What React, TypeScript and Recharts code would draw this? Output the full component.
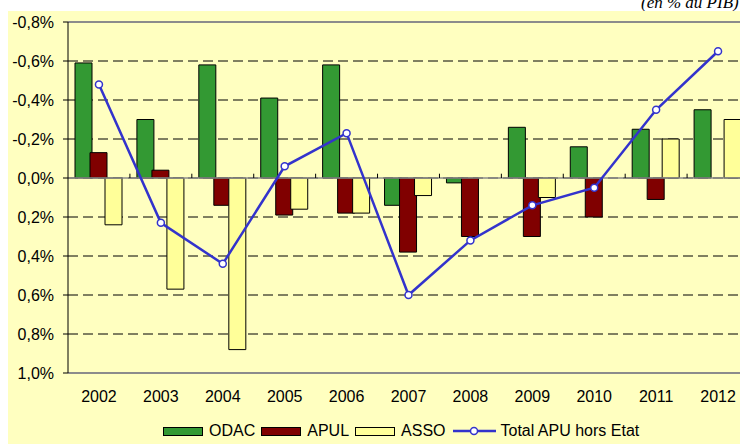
import React from 'react'
import { ComposedChart, Bar, Line, XAxis, YAxis, CartesianGrid, ReferenceLine, Legend } from 'recharts'

const years = ['2002', '2003', '2004', '2005', '2006', '2007', '2008', '2009', '2010', '2011', '2012']
const odac = [-0.59, -0.3, -0.58, -0.41, -0.58, 0.14, 0.025, -0.26, -0.16, -0.25, -0.35]
const apul = [-0.13, -0.04, 0.14, 0.19, 0.18, 0.38, 0.3, 0.3, 0.2, 0.11, null]
const asso = [0.24, 0.57, 0.88, 0.16, 0.18, 0.09, null, 0.1, null, -0.2, -0.3]
const total = [-0.48, 0.23, 0.44, -0.06, -0.23, 0.6, 0.32, 0.14, 0.05, -0.35, -0.65]
const yTicks = [-0.8, -0.6, -0.4, -0.2, 0, 0.2, 0.4, 0.6, 0.8, 1.0]

const data = years.map((year, i) => ({
  year,
  ODAC: odac[i],
  APUL: apul[i],
  ASSO: asso[i],
  total: total[i],
}))

const FONT = '"Liberation Sans", Arial, sans-serif'
const BG = '#FFFFC0'
const BLUE = '#3333CC'
const GREY = '#8C8C8C'

const fmt = (v: number) => v.toFixed(1).replace('.', ',') + '%'

const swatches = [
  { name: 'ODAC', color: '#339933' },
  { name: 'APUL', color: '#800000' },
  { name: 'ASSO', color: '#FFFF99' },
]

function ChartLegend() {
  return (
    <div style={{ display: 'flex', alignItems: 'center', height: 26, fontFamily: FONT, fontSize: 16, color: '#000', whiteSpace: 'nowrap' }}>
      {swatches.map((s) => (
        <div key={s.name} style={{ display: 'flex', alignItems: 'center', marginRight: 6 }}>
          <div style={{ width: 38, height: 7, background: s.color, border: '1px solid #000', marginRight: 6 }} />
          <span>{s.name}</span>
        </div>
      ))}
      <svg width={43} height={10} style={{ marginLeft: 1, marginRight: 5 }}>
        <line x1={0} y1={5} x2={43} y2={5} stroke={BLUE} strokeWidth={2.5} />
        <circle cx={21} cy={5} r={3.5} fill="#fff" stroke={BLUE} strokeWidth={1.5} />
      </svg>
      <span>Total APU hors Etat</span>
    </div>
  )
}

export default function App() {
  return (
    <div style={{ position: 'fixed', left: 0, top: 0, width: 740, height: 444, overflow: 'hidden', background: '#fff' }}>
      <div
        style={{
          position: 'absolute',
          left: 641,
          top: -6,
          fontFamily: '"Liberation Serif", "Times New Roman", serif',
          fontStyle: 'italic',
          fontSize: 17,
          lineHeight: '17px',
          whiteSpace: 'nowrap',
        }}
      >
        (en % du PIB)
      </div>
      <div style={{ position: 'absolute', left: 8, top: 11, width: 760, height: 440, background: BG }}>
        <ComposedChart
          width={745}
          height={433}
          data={data}
          margin={{ top: 11, right: 4, bottom: 0, left: 0 }}
          barSize={17}
          barGap={-2}
          style={{ fontFamily: FONT }}
        >
          <CartesianGrid vertical={false} stroke="#000" strokeDasharray="10 5" />
          <XAxis
            dataKey="year"
            axisLine={false}
            tickLine={false}
            height={45}
            tickMargin={12}
            tick={{ fontSize: 16, fill: '#000', fontFamily: FONT }}
            interval={0}
          />
          <YAxis
            reversed
            domain={[-0.8, 1.0]}
            ticks={yTicks}
            width={60}
            tickFormatter={fmt}
            axisLine={{ stroke: '#000', strokeWidth: 1 }}
            tickLine={{ stroke: '#000' }}
            tickSize={5}
            tickMargin={9}
            tick={{ fontSize: 16, fill: '#000', fontFamily: FONT }}
            interval={0}
          />
          <ReferenceLine y={-0.8} stroke={GREY} strokeWidth={2} />
          <ReferenceLine y={1.0} stroke={GREY} strokeWidth={2} />
          <ReferenceLine y={0} stroke={GREY} strokeWidth={1.5} />
          {years.slice(1).map((y) => (
            <ReferenceLine
              key={'t' + y}
              segment={[{ x: y, y: 0 }, { x: y, y: -0.022 }]}
              position="start"
              stroke="#000"
              strokeWidth={1}
            />
          ))}
          <Bar dataKey="ODAC" fill="#339933" stroke="#000" strokeWidth={1} isAnimationActive={false} />
          <Bar dataKey="APUL" fill="#800000" stroke="#000" strokeWidth={1} isAnimationActive={false} />
          <Bar dataKey="ASSO" fill="#FFFF99" stroke="#000" strokeWidth={1} isAnimationActive={false} />
          <Line
            dataKey="total"
            name="Total APU hors Etat"
            stroke={BLUE}
            strokeWidth={2.5}
            dot={{ r: 3.5, fill: '#fff', stroke: BLUE, strokeWidth: 1.5 }}
            activeDot={false}
            isAnimationActive={false}
          />
          <Legend
            verticalAlign="bottom"
            height={26}
            content={() => <ChartLegend />}
            wrapperStyle={{ left: 155, width: 'auto' }}
          />
        </ComposedChart>
      </div>
    </div>
  )
}
